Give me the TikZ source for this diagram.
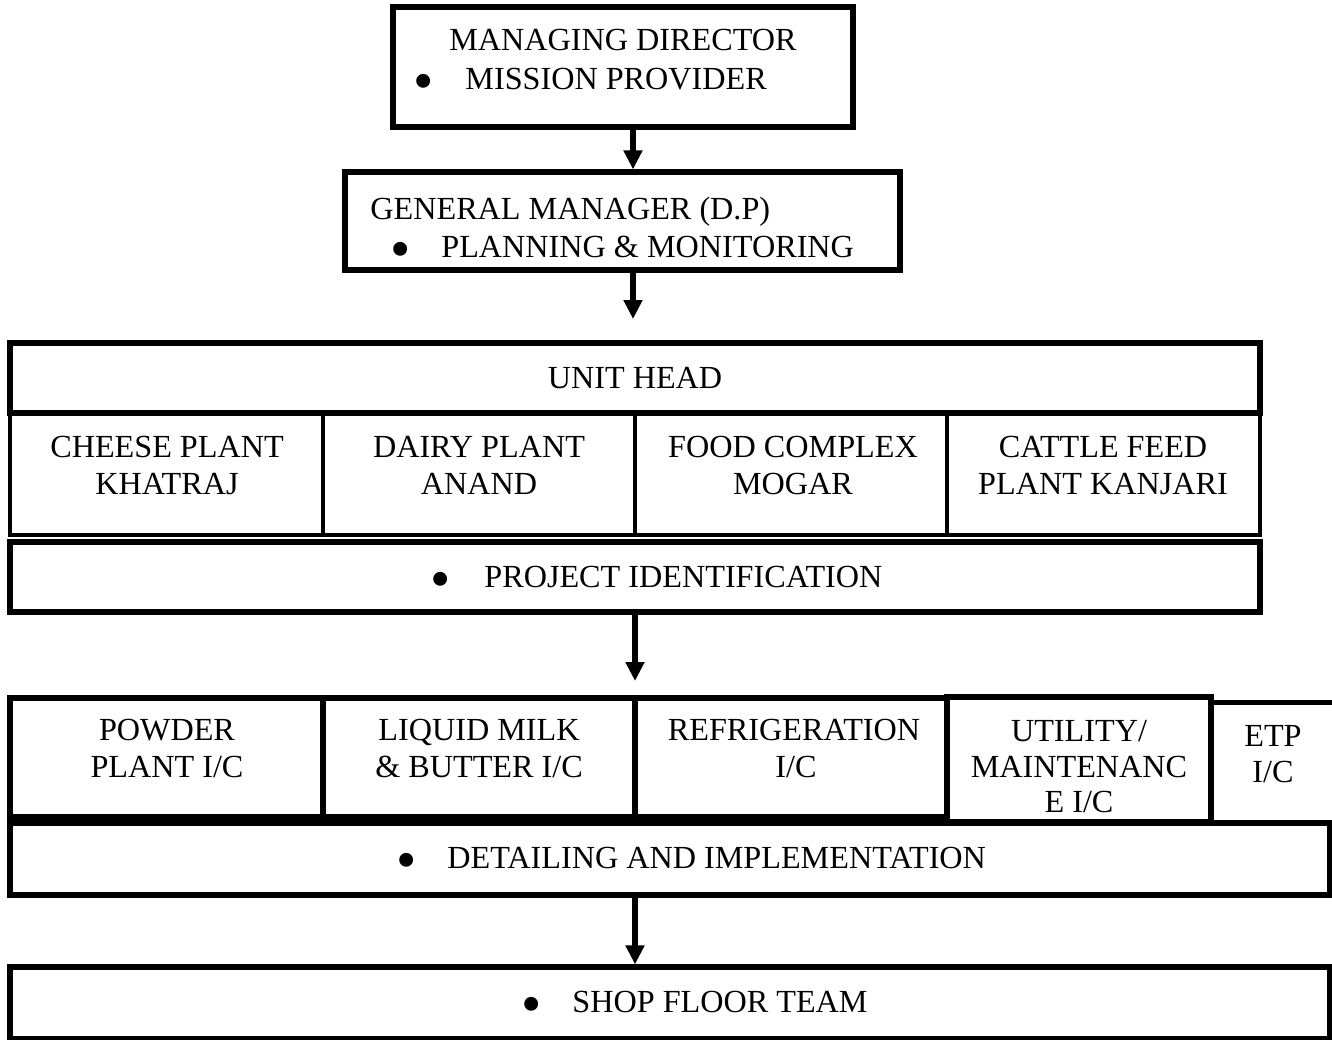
\documentclass[tikz,border=0pt]{standalone}
\usepackage{fontspec}
\setmainfont{Liberation Serif}
\usetikzlibrary{fit,arrows.meta}
\begin{document}
\begin{tikzpicture}[x=0.5pt,y=-0.5pt,
  heavy/.style={draw, line width=2.6pt, inner sep=0pt},
  thin/.style={draw, line width=1.9pt, inner sep=0pt},
  lbl/.style={font=\fontsize{16.1}{19}\selectfont, inner sep=0pt, anchor=base},
  lblw/.style={lbl, anchor=base west},
  bul/.style={font=\fontsize{29}{29}\selectfont, inner sep=0pt, anchor=base},
  arr/.style={line width=2.9pt, -{Triangle[width=9pt,length=9.5pt]}}]
\useasboundingbox (0,0) rectangle (1332,1039);

% top management boxes
\node[heavy, fit={(393,7)(853,127)}] (md) {};
\node[heavy, fit={(345,172)(900,270)}] (gm) {};
\node[lbl] (mdA) at (623,50) {MANAGING DIRECTOR};
\node[bul] (mdB) at (424,100) {•};
\node[lblw] (mdC) at (465,89) {MISSION PROVIDER};
\node[lblw] (gmA) at (370,219) {GENERAL MANAGER (D.P)};
\node[bul] (gmB) at (401,268) {•};
\node[lblw] (gmC) at (441,257) {PLANNING \& MONITORING};

% unit head and plants
\node[thin, fit={(10,413)(323,535)}] (c1) {};
\node[thin, fit={(323,413)(635,535)}] (c2) {};
\node[thin, fit={(635,413)(947,535)}] (c3) {};
\node[thin, fit={(947,413)(1260,535)}] (c4) {};
\node[heavy, fit={(10,343)(1260,413)}] (uh) {};
\node[lbl] (uhT) at (635,388) {UNIT HEAD};
\node[lbl] (c1A) at (167,457) {CHEESE PLANT};
\node[lbl] (c1B) at (167,494) {KHATRAJ};
\node[lbl] (c2A) at (479,457) {DAIRY PLANT};
\node[lbl] (c2B) at (479,494) {ANAND};
\node[lbl] (c3A) at (793,457) {FOOD COMPLEX};
\node[lbl] (c3B) at (793,494) {MOGAR};
\node[lbl] (c4A) at (1103,457) {CATTLE FEED};
\node[lbl] (c4B) at (1103,494) {PLANT KANJARI};

\node[heavy, fit={(10,542)(1260,612)}] (pid) {};
\node[bul] (pidB) at (441,598) {•};
\node[lblw] (pidT) at (484,587) {PROJECT IDENTIFICATION};

% in-charge row
\node[heavy, fit={(10,698)(323,817)}] (ic1) {};
\node[heavy, fit={(323,698)(635,817)}] (ic2) {};
\node[heavy, fit={(635,698)(947,817)}] (ic3) {};
\node[heavy, fit={(947,697)(1211,822)}] (ic4) {};
\node[inner sep=0pt, fit={(1211,703)(1345,822)}] (ic5) {};
\draw[line width=2.6pt] (ic5.north west) -- (ic5.north east);
\node[lbl] (ic1A) at (167,740) {POWDER};
\node[lbl] (ic1B) at (167,777) {PLANT I/C};
\node[lbl] (ic2A) at (479,740) {LIQUID MILK};
\node[lbl] (ic2B) at (479,777) {\& BUTTER I/C};
\node[lbl] (ic3A) at (794,740) {REFRIGERATION};
\node[lbl] (ic3B) at (796,777) {I/C};
\node[lbl] (ic4A) at (1079,741) {UTILITY/};
\node[lbl] (ic4B) at (1079,777) {MAINTENANC};
\node[lbl] (ic4C) at (1079,812) {E I/C};
\node[lbl] (ic5A) at (1273,746) {ETP};
\node[lbl] (ic5B) at (1273,782) {I/C};

\node[heavy, fit={(10,823)(1330,895)}] (det) {};
\node[bul] (detB) at (407,879) {•};
\node[lblw] (detT) at (447,868) {DETAILING AND IMPLEMENTATION};

\node[heavy, fit={(10,967)(1330,1039)}] (sft) {};
\node[bul] (sftB) at (532,1023) {•};
\node[lblw] (sftT) at (572,1012) {SHOP FLOOR TEAM};

% connectors
\coordinate (xa) at (633,0);
\coordinate (xb) at (635,0);
\coordinate (e2) at (633,319);
\coordinate (e3) at (635,681);
\draw[arr] (md.south -| xa) -- (gm.north -| xa);
\draw[arr] (gm.south -| xa) -- (e2);
\draw[arr] (pid.south -| xb) -- (e3);
\draw[arr] (det.south -| xb) -- (sft.north -| xb);
\end{tikzpicture}
\end{document}
